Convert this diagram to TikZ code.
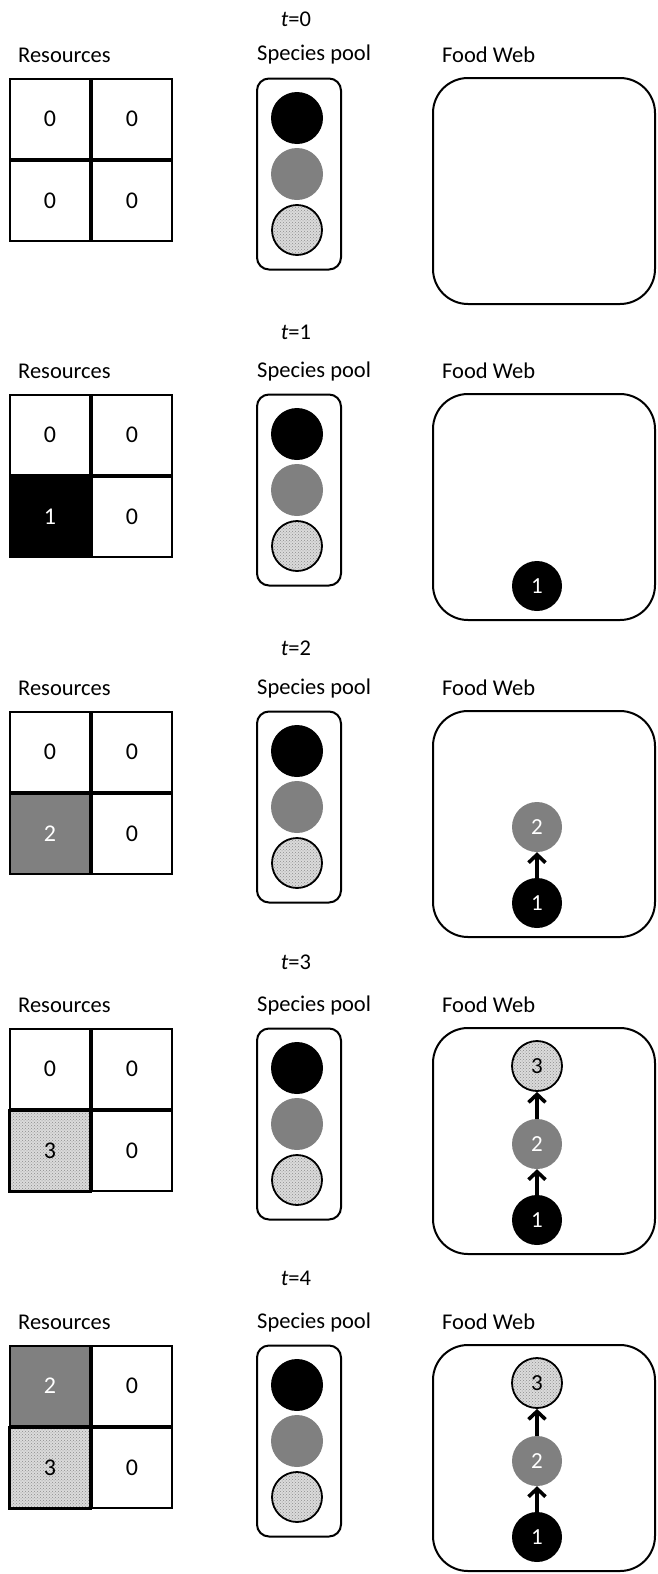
\documentclass[tikz,border=0pt]{standalone}
\usepackage{fontspec}
\setmainfont{Carlito}
\usetikzlibrary{arrows.meta,patterns}

\tikzset{
  heading/.style={inner sep=0pt, font=\fontsize{22.5}{27}\selectfont},
  dots/.style={preaction={fill=black!14}, pattern=crosshatch dots, pattern color=black!45},
  cell/.style={draw, line width=1.6pt, minimum size=80.5pt, inner sep=0pt,
    font=\fontsize{24}{28}\selectfont},
  amount/.code={\ifcase#1\or\tikzset{fill=black,text=white}\or
    \tikzset{fill=gray,text=white}\or\tikzset{dots,line width=3pt}\fi},
  pool/.style={draw, line width=2pt, rounded corners=12pt, minimum width=84pt, minimum height=191pt},
  web/.style={draw, line width=2pt, rounded corners=35pt, minimum width=222pt, minimum height=226pt},
  species/.style={circle, inner sep=0pt, minimum size=50pt, font=\fontsize{23}{27}\selectfont},
  sp1/.style={species, fill=black, text=white},
  sp2/.style={species, fill=gray, text=white},
  sp3/.style={species, draw, line width=1.8pt, dots, text=black},
  feeds/.style={-{Straight Barb[length=8pt,width=17pt]}, line width=3.6pt}
}

\begin{document}
\begin{tikzpicture}[x=1pt,y=-1pt]
\useasboundingbox (0,0) rectangle (657,1574);
\foreach \k/\dy/\ty/\ul/\ll/\n in {0/0/19/0/0/0,1/316/16/0/1/1,2/633/15/0/2/2,
                                    3/950/12/0/3/3,4/1267/11/2/3/3}{
  \begin{scope}[shift={(0,\dy)}]
    % headings
    \node[heading] (time\k) at (296,\ty) {\textit{t}=\k};
    \node[heading, anchor=west] (resources\k) at (18,55) {Resources};
    \node[heading, anchor=west] (species\k) at (257,55) {Species pool};
    \node[heading, anchor=west] (foodweb\k) at (442,55) {Food Web};
    % resource grid
    \node[cell, amount=\ul] (ul\k) at (50,119) {\ul};
    \node[cell] (ur\k) at (132,119) {0};
    \node[cell, amount=\ll] (ll\k) at (50,201) {\ll};
    \node[cell] (lr\k) at (132,201) {0};
    % species pool
    \node[pool] (pool\k) at (299,174) {};
    \node[sp1, minimum size=52pt] (pa\k) at (297,118) {};
    \node[sp2, minimum size=52pt] (pb\k) at (297,174) {};
    \node[sp3, minimum size=50pt] (pc\k) at (297,230) {};
    % food web
    \node[web] (web\k) at (544,191) {};
    \ifnum\n>0
      \node[sp1] (wa\k) at (537,270) {1};
    \fi
    \ifnum\n>1
      \node[sp2] (wb\k) at (537,194) {2};
      \draw[feeds] (wa\k) -- (wb\k);
    \fi
    \ifnum\n>2
      \node[sp3] (wc\k) at (537,116) {3};
      \draw[feeds] (wb\k) -- (wc\k);
    \fi
  \end{scope}
}
\end{tikzpicture}
\end{document}
